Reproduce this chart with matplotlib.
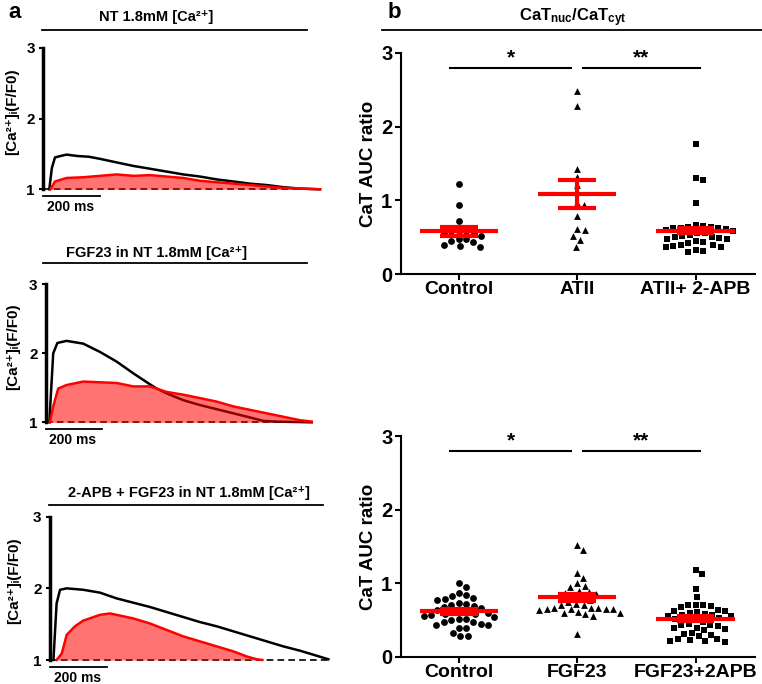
import matplotlib.pyplot as plt
import numpy as np
from matplotlib.lines import Line2D

plt.rcParams['font.family'] = ['Liberation Sans', 'DejaVu Sans']
plt.rcParams['font.weight'] = 'bold'
plt.rcParams['mathtext.fontset'] = 'custom'
plt.rcParams['mathtext.rm'] = 'Liberation Sans:bold'
plt.rcParams['mathtext.it'] = 'Liberation Sans:bold'
plt.rcParams['mathtext.bf'] = 'Liberation Sans:bold'

# ---- panel a: Ca transients, time (ms) vs F/F0 ----
nt_cyt_t = [21, 30, 41, 60, 82, 120, 160, 199, 257, 316, 375, 433, 491, 550, 608, 667, 725, 784, 842, 901, 971]
nt_cyt_v = [1.0, 1.3, 1.45, 1.47, 1.49, 1.47, 1.46, 1.43, 1.38, 1.33, 1.29, 1.25, 1.21, 1.18, 1.14, 1.11, 1.08, 1.06, 1.03, 1.01, 1.0]
nt_nuc_t = [25, 41, 82, 140, 199, 257, 316, 375, 433, 491, 550, 608, 667, 725, 784, 842, 901, 971]
nt_nuc_v = [1.0, 1.11, 1.16, 1.17, 1.19, 1.21, 1.19, 1.2, 1.18, 1.16, 1.12, 1.1, 1.08, 1.06, 1.04, 1.02, 1.01, 1.0]

fgf_cyt_t = [12, 26, 41, 74, 134, 194, 254, 314, 374, 398, 434, 494, 554, 614, 674, 734, 782, 830, 956]
fgf_cyt_v = [1.0, 2.0, 2.15, 2.18, 2.14, 2.02, 1.88, 1.71, 1.55, 1.49, 1.42, 1.32, 1.25, 1.19, 1.13, 1.07, 1.02, 1.01, 1.0]
fgf_nuc_t = [14, 26, 44, 74, 134, 194, 254, 314, 374, 434, 494, 554, 614, 674, 734, 794, 854, 914, 956]
fgf_nuc_v = [1.0, 1.23, 1.49, 1.54, 1.59, 1.58, 1.57, 1.52, 1.52, 1.44, 1.40, 1.35, 1.30, 1.23, 1.18, 1.13, 1.08, 1.03, 1.01]

apb_cyt_t = [12, 23, 35, 58, 116, 174, 232, 290, 348, 406, 464, 522, 581, 639, 697, 755, 813, 871, 929, 970]
apb_cyt_v = [1.0, 1.79, 1.98, 2.0, 1.98, 1.94, 1.86, 1.80, 1.74, 1.67, 1.60, 1.53, 1.47, 1.40, 1.33, 1.26, 1.19, 1.13, 1.06, 1.01]
apb_nuc_t = [23, 41, 58, 87, 116, 174, 209, 232, 290, 348, 406, 464, 522, 581, 639, 685, 720, 740]
apb_nuc_v = [1.0, 1.09, 1.35, 1.47, 1.55, 1.63, 1.65, 1.63, 1.58, 1.51, 1.42, 1.33, 1.26, 1.19, 1.12, 1.05, 1.01, 1.0]

trace_titles = ['NT 1.8mM [Ca²⁺]', 'FGF23 in NT 1.8mM [Ca²⁺]', '2-APB + FGF23 in NT 1.8mM [Ca²⁺]']
trace_ylabel = '[Ca²⁺]ᵢ(F/F0)'

# ---- panel b: CaT AUC ratio ----
top_labels = ['Control', 'ATII', 'ATII+ 2-APB']
top_control = [1.22, 0.93, 0.72, 0.59, 0.59, 0.58, 0.56, 0.55, 0.52, 0.48, 0.47, 0.45, 0.43, 0.40, 0.38, 0.37]
top_atii = [2.49, 2.28, 1.43, 1.32, 1.21, 0.97, 0.93, 0.79, 0.60, 0.61, 0.52, 0.46, 0.37]
top_apb = [1.76, 1.30, 1.27, 0.96, 0.66, 0.65, 0.64, 0.64, 0.63, 0.62, 0.62, 0.61, 0.60, 0.58, 0.56, 0.55,
           0.53, 0.52, 0.50, 0.50, 0.49, 0.48, 0.47, 0.45, 0.43, 0.42, 0.40, 0.40, 0.38, 0.37, 0.36, 0.33, 0.31, 0.30]
top_mean = [0.58, 1.08, 0.59]
top_sem = [0.06, 0.19, 0.04]

bot_labels = ['Control', 'FGF23', 'FGF23+2APB']
bot_control = [1.00, 0.95, 0.87, 0.84, 0.83, 0.80, 0.79, 0.78, 0.73, 0.72, 0.71, 0.69, 0.68, 0.66, 0.64, 0.63,
               0.62, 0.61, 0.60, 0.59, 0.58, 0.57, 0.56, 0.54, 0.52, 0.52, 0.50, 0.48, 0.47, 0.45, 0.44, 0.43,
               0.40, 0.39, 0.33, 0.29, 0.28]
bot_fgf = [1.52, 1.45, 1.14, 1.07, 1.00, 0.97, 0.95, 0.90, 0.88, 0.87, 0.85, 0.82, 0.80, 0.78, 0.75, 0.72,
           0.71, 0.70, 0.66, 0.66, 0.66, 0.65, 0.65, 0.65, 0.65, 0.64, 0.61, 0.60, 0.60, 0.58, 0.56, 0.31]
bot_apb = [1.18, 1.12, 0.92, 0.82, 0.71, 0.70, 0.70, 0.69, 0.68, 0.64, 0.63, 0.62, 0.61, 0.60, 0.58, 0.57,
           0.57, 0.56, 0.55, 0.53, 0.52, 0.50, 0.48, 0.45, 0.44, 0.43, 0.42, 0.40, 0.39, 0.38, 0.36, 0.33,
           0.31, 0.30, 0.28, 0.25, 0.24, 0.23, 0.22, 0.22, 0.21]
bot_mean = [0.62, 0.81, 0.52]
bot_sem = [0.035, 0.05, 0.035]

sig_labels = ['*', '**']


def swarm_x(ax, values, xc, diam):
    p0 = ax.transData.transform((0, 0))
    p1 = ax.transData.transform((1, 1))
    sx, sy = p1[0] - p0[0], p1[1] - p0[1]
    steps = np.arange(0, 150, 0.5)
    cand = np.concatenate([[0], np.ravel(np.column_stack([steps[1:], -steps[1:]]))])
    placed = []
    xs = []
    for v in values:
        y = v * sy
        for c in cand:
            if all((c - px) ** 2 + (y - py) ** 2 >= diam ** 2 for px, py in placed):
                placed.append((c, y))
                xs.append(xc + c / sx)
                break
    return xs


def trace_panel(fig, rect, cyt_t, cyt_v, nuc_t, nuc_v, end_t, label_x):
    ax = fig.add_axes(rect)
    ax.plot([0, end_t], [1, 1], color='black', lw=1.2, ls=(0, (4, 2.5)), clip_on=False, zorder=1)
    ax.plot(cyt_t, cyt_v, color='black', lw=1.8, clip_on=False, zorder=2)
    ax.fill_between(nuc_t, 1, nuc_v, color='red', alpha=0.55, lw=0, zorder=3)
    ax.plot(nuc_t, nuc_v, color='red', lw=1.8, clip_on=False, zorder=4)
    ax.set_xlim(0, 1000)
    ax.set_ylim(1, 3)
    for s in ['top', 'right', 'bottom']:
        ax.spines[s].set_visible(False)
    ax.spines['left'].set_linewidth(2.5)
    ax.set_xticks([])
    ax.set_yticks([1, 2, 3])
    ax.tick_params(axis='y', length=3, width=1.5, labelsize=11, pad=3)
    # y label as figure text so it sits at the left edge
    pos = ax.get_position()
    fig.text(label_x, pos.y0 + 0.55 * pos.height, trace_ylabel, rotation=90,
             ha='center', va='center', fontsize=11, fontweight='bold')
    # 200 ms scale bar
    ax.plot([0, 200], [0.9, 0.9], color='black', lw=1.3, clip_on=False)
    ax.text(95, 0.85, '200 ms', ha='center', va='top', fontsize=10, fontweight='bold')
    return ax


def dot_panel(fig, rect, groups, labels, means, sems):
    ax = fig.add_axes(rect)
    ax.set_xlim(-0.49, 2.5)
    ax.set_ylim(0, 3)
    markers = ['o', '^', 's']
    for i, vals in enumerate(groups):
        vals = sorted(vals, reverse=True)
        xs = swarm_x(ax, vals, i, 7.5)
        ax.scatter(xs, vals, marker=markers[i], s=24, color='black', lw=0, zorder=2)
        ax.hlines(means[i], i - 0.33, i + 0.33, color='red', lw=3, zorder=3)
        ax.hlines([means[i] - sems[i], means[i] + sems[i]], i - 0.16, i + 0.16, color='red', lw=3, zorder=3)
        ax.vlines(i, means[i] - sems[i], means[i] + sems[i], color='red', lw=3, zorder=3)
    ax.plot([-0.07, 0.95], [2.8, 2.8], color='black', lw=1.5)
    ax.plot([1.05, 2.04], [2.8, 2.8], color='black', lw=1.5)
    ax.text(0.44, 2.8, sig_labels[0], ha='center', va='bottom', fontsize=15, fontweight='bold')
    ax.text(1.54, 2.8, sig_labels[1], ha='center', va='bottom', fontsize=15, fontweight='bold')
    for s in ['top', 'right']:
        ax.spines[s].set_visible(False)
    ax.spines['left'].set_linewidth(1.5)
    ax.spines['bottom'].set_linewidth(1.5)
    ax.set_yticks([0, 1, 2, 3])
    ax.set_xticks([0, 1, 2])
    ax.set_xticklabels(labels)
    ax.tick_params(axis='y', length=4, width=1.5, labelsize=14.5, pad=2)
    ax.tick_params(axis='x', length=4, width=1.5, labelsize=14, pad=1)
    ax.set_ylabel('CaT AUC ratio', fontsize=13.5, fontweight='bold', labelpad=3)
    return ax


def main():
    W, H = 762, 684
    fig = plt.figure(figsize=(W / 100, H / 100), dpi=100)

    trace_panel(fig, [43.3 / W, 1 - 189.3 / H, 285 / W, 141.6 / H], nt_cyt_t, nt_cyt_v, nt_nuc_t, nt_nuc_v, 971, 12 / W)
    trace_panel(fig, [46 / W, 1 - 422.3 / H, 278 / W, 138 / H], fgf_cyt_t, fgf_cyt_v, fgf_nuc_t, fgf_nuc_v, 956, 13 / W)
    trace_panel(fig, [50 / W, 1 - 660 / H, 287 / W, 143.3 / H], apb_cyt_t, apb_cyt_v, apb_nuc_t, apb_nuc_v, 970, 14 / W)

    # titles over the trace panels
    title_pos = [(156, 17, 42, 307, 30), (157, 253, 43, 307, 263.3), (189, 493, 49, 323, 505)]
    for txt, (tx, ty, x0, x1, ly) in zip(trace_titles, title_pos):
        fig.text(tx / W, 1 - ty / H, txt, ha='center', va='center', fontsize=10.5, fontweight='bold')
        fig.add_artist(Line2D([x0 / W, x1 / W], [1 - ly / H, 1 - ly / H], color='black', lw=1.3))

    dot_panel(fig, [400.7 / W, 1 - 274 / H, 354 / W, 221 / H],
              [top_control, top_atii, top_apb], top_labels, top_mean, top_sem)
    dot_panel(fig, [400.7 / W, 1 - 657 / H, 354 / W, 221 / H],
              [bot_control, bot_fgf, bot_apb], bot_labels, bot_mean, bot_sem)

    fig.text(573 / W, 1 - 18 / H, 'CaT$_{nuc}$/CaT$_{cyt}$', ha='center', va='center', fontsize=12, fontweight='bold')
    fig.add_artist(Line2D([382 / W, 762 / W], [1 - 29.5 / H, 1 - 29.5 / H], color='black', lw=1.3))

    fig.text(15 / W, 1 - 12 / H, 'a', ha='center', va='center', fontsize=16, fontweight='bold')
    fig.text(394 / W, 1 - 12 / H, 'b', ha='center', va='center', fontsize=16, fontweight='bold')

    plt.savefig('out.png', dpi=100)


if __name__ == "__main__":
    main()
